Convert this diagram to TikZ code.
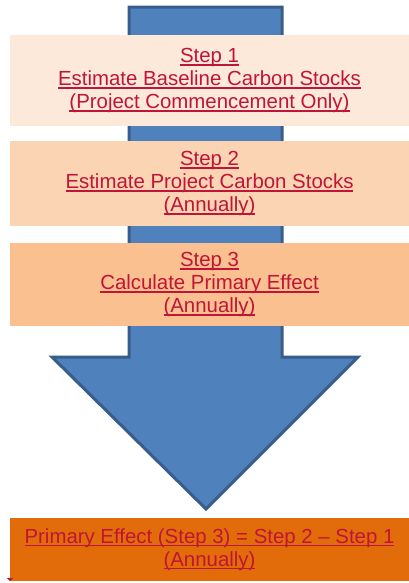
\documentclass[tikz,border=0pt]{standalone}
\usepackage{fontspec}
\setmainfont{Liberation Sans}
\definecolor{arrowfill}{RGB}{79,129,189}
\definecolor{arrowline}{RGB}{56,93,138}
\definecolor{stepone}{RGB}{253,233,217}
\definecolor{steptwo}{RGB}{251,212,180}
\definecolor{stepthree}{RGB}{250,192,144}
\definecolor{resultfill}{RGB}{227,108,10}
\definecolor{linktext}{RGB}{192,20,56}
% thicker underline, as in hyperlinked text
\newcommand\ulink[1]{\setbox0\hbox{#1}\leavevmode\rlap{\rule[-2.4pt]{\wd0}{1pt}}\box0}
\tikzset{every picture/.style={line width=0.75pt}}
\tikzset{
  stepbox/.style={inner sep=0pt,minimum width=299.25pt,align=center,
    text=linktext,font=\fontsize{15.3}{17.25}\selectfont},
}

\begin{document}
\begin{tikzpicture}[x=0.75pt,y=0.75pt,yscale=-1,xscale=1]
\useasboundingbox (0,0) rectangle (409,583);

%Shape: Down Arrow [id:flowarrow]
\draw [color=arrowline,fill=arrowfill,line width=2.25pt,line join=miter] (129,7) -- (282,7) -- (282,357) -- (358,357) -- (206,509) -- (52,357) -- (129,357) -- cycle ;

% Step Nodes
\node (stepA) [stepbox,fill=stepone,minimum height=68.25pt] at (209.5,80.5) {\ulink{Step 1}\\\ulink{Estimate Baseline Carbon Stocks}\\\ulink{(Project Commencement Only)}};
\node (stepB) [stepbox,fill=steptwo,minimum height=63.75pt] at (209.5,183.5) {\ulink{Step 2}\\\ulink{Estimate Project Carbon Stocks}\\\ulink{(Annually)}};
\node (stepC) [stepbox,fill=stepthree,minimum height=62.25pt] at (209.5,284.5) {\ulink{Step 3}\\\ulink{Calculate Primary Effect}\\\ulink{(Annually)}};
% Result Node
\node (result) [stepbox,fill=resultfill,minimum height=47.25pt] at (209.5,549.5) {\ulink{Primary Effect (Step 3) = Step 2 – Step 1}\\\ulink{(Annually)}};

%Shape: Marker [id:cornermark]
\fill [linktext] (7,578) -- (13,578) -- (10,581) -- cycle ;

\end{tikzpicture}
\end{document}
